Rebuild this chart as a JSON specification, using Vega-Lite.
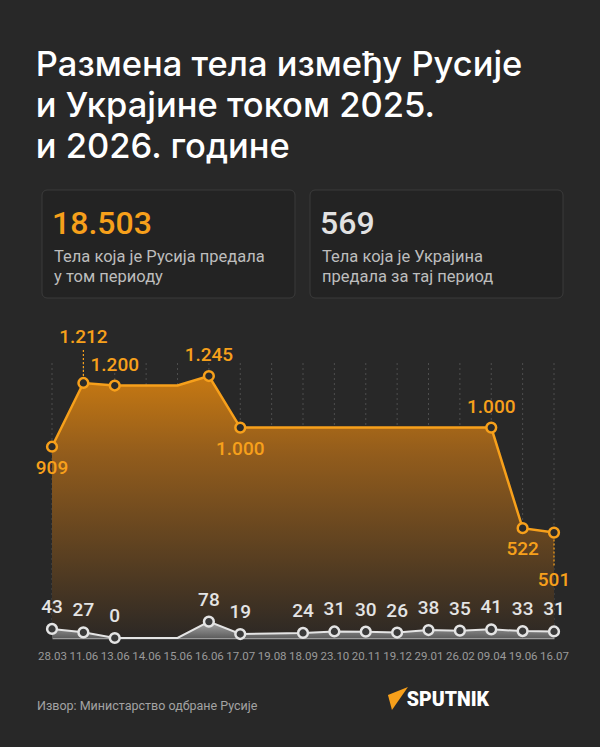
{
  "$schema": "https://vega.github.io/schema/vega-lite/v6.json",
  "background": "#282828",
  "padding": {"left": 35, "right": 35, "top": 48, "bottom": 34},
  "bounds": "flush",
  "spacing": 65,
  "config": {
    "locale": {"number": {"decimal": ",", "thousands": ".", "grouping": [3], "currency": ["", ""]}},
    "view": {"stroke": null},
    "font": "Roboto"
  },
  "title": {
    "text": ["Размена тела између Русије", "и Украјине током 2025.", "и 2026. године"],
    "anchor": "start",
    "fontSize": 34.5,
    "fontWeight": 500,
    "color": "#ffffff",
    "lineHeight": 41,
    "offset": 24,
    "font": "Inter"
  },
  "vconcat": [
    {
      "width": 530,
      "height": 108,
      "data": {"values": [
        {"card": "Русија", "total": 18503, "line1": "Тела која је Русија предала", "line2": "у том периоду"},
        {"card": "Украјина", "total": 569, "line1": "Тела која је Украјина", "line2": "предала за тај период"}
      ]},
      "encoding": {
        "x": {"field": "card", "type": "nominal", "sort": null, "axis": null,
              "scale": {"type": "band", "range": [5, 526], "paddingInner": 0.056, "paddingOuter": 0}}
      },
      "layer": [
        {"mark": {"type": "rect", "fill": "#232323", "stroke": "#3b3b3b", "strokeWidth": 1, "cornerRadius": 5}},
        {"mark": {"type": "text", "align": "left", "baseline": "alphabetic", "dx": 10, "dy": -10, "fontSize": 32, "fontWeight": 500},
         "encoding": {
           "x": {"field": "card", "type": "nominal", "sort": null, "bandPosition": 0},
           "text": {"field": "total", "type": "quantitative", "format": ",d"},
           "color": {"field": "card", "type": "nominal", "sort": null, "legend": null,
                     "scale": {"domain": ["Русија", "Украјина"], "range": ["#f7a01b", "#e2e2e2"]}}
         }},
        {"mark": {"type": "text", "align": "left", "baseline": "alphabetic", "dx": 12, "dy": 18, "fontSize": 16.5, "color": "#bdbdbd"},
         "encoding": {
           "x": {"field": "card", "type": "nominal", "sort": null, "bandPosition": 0},
           "text": {"field": "line1", "type": "nominal"}
         }},
        {"mark": {"type": "text", "align": "left", "baseline": "alphabetic", "dx": 12, "dy": 38, "fontSize": 16.5, "color": "#bdbdbd"},
         "encoding": {
           "x": {"field": "card", "type": "nominal", "sort": null, "bandPosition": 0},
           "text": {"field": "line2", "type": "nominal"}
         }}
      ]
    },
    {
      "width": 530,
      "height": 275,
      "data": {"values": [
        {"date": "28.03", "ru": 909, "ua": 43, "ru_pt": true, "ua_pt": true},
        {"date": "11.06", "ru": 1212, "ua": 27, "ru_pt": true, "ua_pt": true},
        {"date": "13.06", "ru": 1200, "ua": 0, "ru_pt": true, "ua_pt": true},
        {"date": "14.06", "ru": 1200, "ua": 0, "ru_pt": false, "ua_pt": false},
        {"date": "15.06", "ru": 1200, "ua": 0, "ru_pt": false, "ua_pt": false},
        {"date": "16.06", "ru": 1245, "ua": 78, "ru_pt": true, "ua_pt": true},
        {"date": "17.07", "ru": 1000, "ua": 19, "ru_pt": true, "ua_pt": true},
        {"date": "19.08", "ru": 1000, "ua": 21, "ru_pt": false, "ua_pt": false},
        {"date": "18.09", "ru": 1000, "ua": 24, "ru_pt": false, "ua_pt": true},
        {"date": "23.10", "ru": 1000, "ua": 31, "ru_pt": false, "ua_pt": true},
        {"date": "20.11", "ru": 1000, "ua": 30, "ru_pt": false, "ua_pt": true},
        {"date": "19.12", "ru": 1000, "ua": 26, "ru_pt": false, "ua_pt": true},
        {"date": "29.01", "ru": 1000, "ua": 38, "ru_pt": false, "ua_pt": true},
        {"date": "26.02", "ru": 1000, "ua": 35, "ru_pt": false, "ua_pt": true},
        {"date": "09.04", "ru": 1000, "ua": 41, "ru_pt": true, "ua_pt": true},
        {"date": "19.06", "ru": 522, "ua": 33, "ru_pt": true, "ua_pt": true},
        {"date": "16.07", "ru": 501, "ua": 31, "ru_pt": true, "ua_pt": true}
      ]},
      "encoding": {
        "x": {"field": "date", "type": "ordinal", "sort": null,
              "scale": {"type": "point", "range": [15, 517], "padding": 0},
              "axis": {"title": null, "labelAngle": 0, "ticks": false, "grid": false,
                       "domainColor": "#9a9a9a", "domainWidth": 1.5,
                       "labelColor": "#9a9a9a", "labelFontSize": 11.5, "labelPadding": 12, "labelFont": "Roboto"}}
      },
      "layer": [
        {"mark": {"type": "rule", "color": "#4d4d4d", "strokeWidth": 1, "strokeDash": [2, 3]}},
        {"mark": {"type": "area", "color": {"gradient": "linear", "x1": 0, "y1": 0, "x2": 0, "y2": 1,
                  "stops": [{"offset": 0, "color": "#c77912"}, {"offset": 0.3, "color": "#925c1c"}, {"offset": 1, "color": "#2c2825"}]}},
         "encoding": {"y": {"field": "ru", "type": "quantitative", "scale": {"domain": [0, 1307], "nice": false}, "axis": null}}},
        {"mark": {"type": "area", "color": {"gradient": "linear", "x1": 0, "y1": 0, "x2": 0, "y2": 1,
                  "stops": [{"offset": 0, "color": "#a8a8a8"}, {"offset": 1, "color": "#5e5e5e"}]}},
         "encoding": {"y": {"field": "ua", "type": "quantitative"}}},
        {"mark": {"type": "line", "color": "#f7a01b", "strokeWidth": 2.5},
         "encoding": {"y": {"field": "ru", "type": "quantitative"}}},
        {"mark": {"type": "line", "color": "#e4e4e4", "strokeWidth": 2},
         "encoding": {"y": {"field": "ua", "type": "quantitative"}}},
        {"transform": [{"filter": {"field": "date", "oneOf": ["11.06"]}}],
         "mark": {"type": "rule", "color": "#f7a01b", "strokeWidth": 1.2, "strokeDash": [2, 2], "yOffset": -7, "y2Offset": -33},
         "encoding": {"y": {"field": "ru", "type": "quantitative"}, "y2": {"field": "ru"}}},
        {"transform": [{"filter": {"field": "date", "oneOf": ["16.07"]}}],
         "mark": {"type": "rule", "color": "#f7a01b", "strokeWidth": 1.2, "strokeDash": [2, 2], "yOffset": 7, "y2Offset": 34},
         "encoding": {"y": {"field": "ru", "type": "quantitative"}, "y2": {"field": "ru"}}},
        {"transform": [{"filter": "datum.ru_pt"}],
         "mark": {"type": "point", "shape": "circle", "size": 95, "filled": true, "fill": "#2a2a2a", "stroke": "#f7a01b", "strokeWidth": 2.5, "opacity": 1},
         "encoding": {"y": {"field": "ru", "type": "quantitative"}}},
        {"transform": [{"filter": "datum.ua_pt"}],
         "mark": {"type": "point", "shape": "circle", "size": 95, "filled": true, "fill": "#3a3a3a", "stroke": "#e4e4e4", "strokeWidth": 2.5, "opacity": 1},
         "encoding": {"y": {"field": "ua", "type": "quantitative"}}},
        {"transform": [{"filter": {"field": "date", "oneOf": ["13.06", "16.06", "09.04"]}}],
         "mark": {"type": "text", "baseline": "middle", "dy": -21, "fontSize": 19, "fontWeight": 500, "color": "#f7a01b"},
         "encoding": {"y": {"field": "ru", "type": "quantitative"}, "text": {"field": "ru", "type": "quantitative", "format": ",d"}}},
        {"transform": [{"filter": {"field": "date", "oneOf": ["28.03", "17.07", "19.06"]}}],
         "mark": {"type": "text", "baseline": "middle", "dy": 21, "fontSize": 19, "fontWeight": 500, "color": "#f7a01b"},
         "encoding": {"y": {"field": "ru", "type": "quantitative"}, "text": {"field": "ru", "type": "quantitative", "format": ",d"}}},
        {"transform": [{"filter": {"field": "date", "oneOf": ["11.06"]}}],
         "mark": {"type": "text", "baseline": "middle", "dy": -46, "fontSize": 19, "fontWeight": 500, "color": "#f7a01b"},
         "encoding": {"y": {"field": "ru", "type": "quantitative"}, "text": {"field": "ru", "type": "quantitative", "format": ",d"}}},
        {"transform": [{"filter": {"field": "date", "oneOf": ["16.07"]}}],
         "mark": {"type": "text", "baseline": "middle", "dy": 47, "fontSize": 19, "fontWeight": 500, "color": "#f7a01b"},
         "encoding": {"y": {"field": "ru", "type": "quantitative"}, "text": {"field": "ru", "type": "quantitative", "format": ",d"}}},
        {"transform": [{"filter": "datum.ua_pt"}],
         "mark": {"type": "text", "baseline": "middle", "dy": -22, "fontSize": 19, "fontWeight": 500, "color": "#e4e4e4"},
         "encoding": {"y": {"field": "ua", "type": "quantitative"}, "text": {"field": "ua", "type": "quantitative", "format": ",d"}}}
      ]
    },
    {
      "width": 530,
      "height": 2,
      "data": {"values": [
        {"kind": "source", "text": "Извор: Министарство одбране Русије"},
        {"kind": "brand", "text": "SPUTNIK"}
      ]},
      "encoding": {
        "x": {"field": "kind", "type": "nominal", "axis": null,
              "scale": {"type": "point", "domain": ["source", "brand"], "range": [0, 452], "padding": 0}}
      },
      "layer": [
        {"transform": [{"filter": {"field": "kind", "equal": "source"}}],
         "mark": {"type": "text", "align": "left", "baseline": "middle", "dy": 2, "fontSize": 12.5, "color": "#a3a3a3"},
         "encoding": {"text": {"field": "text", "type": "nominal"}}},
        {"transform": [{"filter": {"field": "kind", "equal": "brand"}}],
         "mark": {"type": "text", "align": "right", "baseline": "alphabetic", "dy": 2, "fontSize": 19.5, "fontWeight": 900, "color": "#ffffff"},
         "encoding": {"text": {"field": "text", "type": "nominal"}}},
        {"transform": [{"filter": {"field": "kind", "equal": "brand"}}],
         "mark": {"type": "point", "shape": "M 0.92 -0.77 L -0.62 -0.15 L -0.31 1 Z", "size": 676, "filled": true, "color": "#f7a01b", "opacity": 1, "xOffset": -93, "yOffset": -7},
         "encoding": {}}
      ]
    }
  ]
}
